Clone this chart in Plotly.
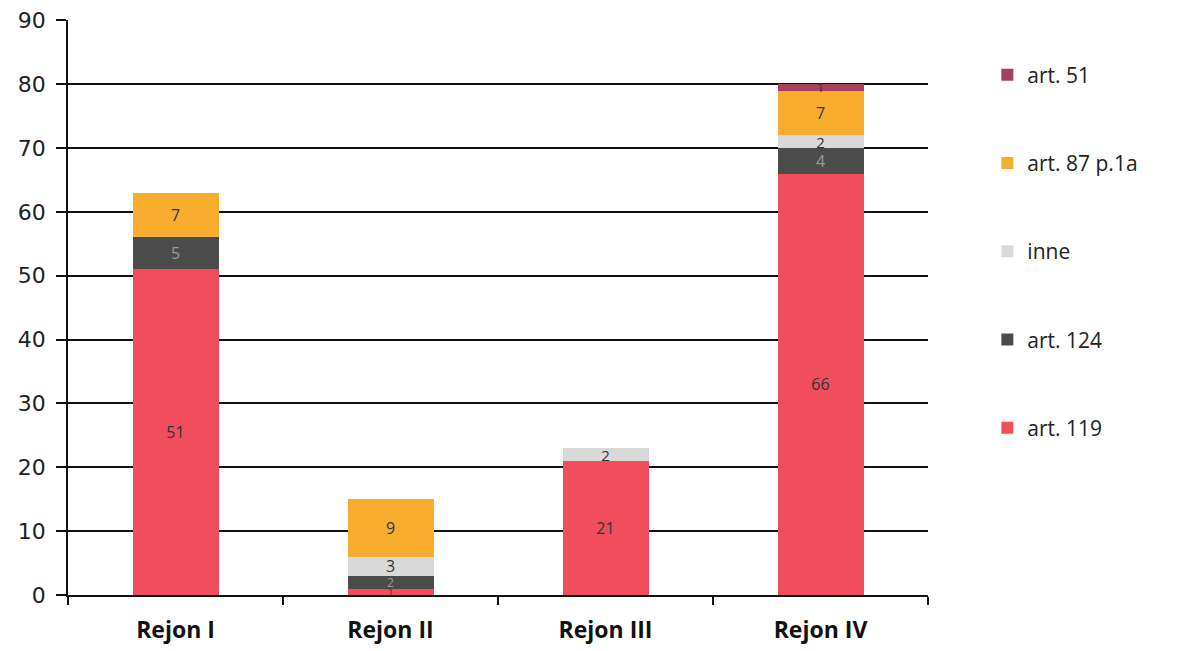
import plotly.graph_objects as go

categories = ["Rejon I", "Rejon II", "Rejon III", "Rejon IV"]
series_names = ["art. 119", "art. 124", "inne", "art. 87 p.1a", "art. 51"]
art119 = [51, 1, 21, 66]
art124 = [5, 2, 0, 4]
inne = [0, 3, 2, 2]
art87 = [7, 9, 0, 7]
art51 = [0, 0, 0, 1]
colors = ["#F04E5C", "#4B4B4B", "#D9D9D9", "#F9AD2E", "#A63F5B"]
label_colors = ["#333333", "#9A9A9A", "#333333", "#333333", "#333333"]
y_ticks = [0, 10, 20, 30, 40, 50, 60, 70, 80, 90]

all_series = [art119, art124, inne, art87, art51]
totals = [sum(s[j] for s in all_series) for j in range(len(categories))]

fig = go.Figure()
for i, (name, vals, col, lcol) in enumerate(zip(series_names, all_series, colors, label_colors)):
    sizes = []
    for j, v in enumerate(vals):
        if v >= 3:
            sizes.append(16)
        elif totals[j] < 20:
            sizes.append(12 if v == 2 else 10)
        else:
            sizes.append(15 if v == 2 else 13)
    fig.add_trace(go.Bar(
        x=categories, y=vals, name=name, legendgroup=name,
        legendrank=len(series_names) - i,
        marker=dict(color=col, line=dict(width=0)),
        text=[str(v) if v else "" for v in vals],
        textposition="inside", insidetextanchor="middle", textangle=0,
        textfont=dict(size=sizes, color=lcol, family="Open Sans"),
        constraintext="none", cliponaxis=False,
    ))

fig.update_layout(
    barmode="stack", bargap=0.6,
    width=1185, height=651,
    margin=dict(l=60, r=265, t=12, b=64),
    paper_bgcolor="white", plot_bgcolor="white",
    font=dict(family="Open Sans", color="#111111"),
    legend=dict(
        x=1.069, y=0.94, xanchor="left", yanchor="top",
        traceorder="grouped", tracegroupgap=58,
        font=dict(size=21, color="#222222", family="Open Sans"),
        itemwidth=30,
    ),
    showlegend=True,
)
fig.update_yaxes(
    range=[0, 90.05], tickvals=y_ticks, showgrid=True, gridcolor="#111111", gridwidth=1.5,
    showline=True, linecolor="#111111", linewidth=1.5,
    ticks="outside", ticklen=10, tickcolor="#111111", tickwidth=1.5,
    tickfont=dict(size=22, color="#222222", family="DejaVu Sans"),
    ticklabelstandoff=6, automargin=False,
    zeroline=False,
)
fig.update_xaxes(
    showline=True, linecolor="#111111", linewidth=1.5,
    ticks="outside", ticklen=8, tickcolor="#111111", tickwidth=1.5, tickson="boundaries",
    tickfont=dict(size=23, color="#111111", family="Open Sans"),
    tickprefix="<b>", ticksuffix="</b>",
    ticklabelstandoff=14, automargin=False,
)

fig.write_html("out.html")
